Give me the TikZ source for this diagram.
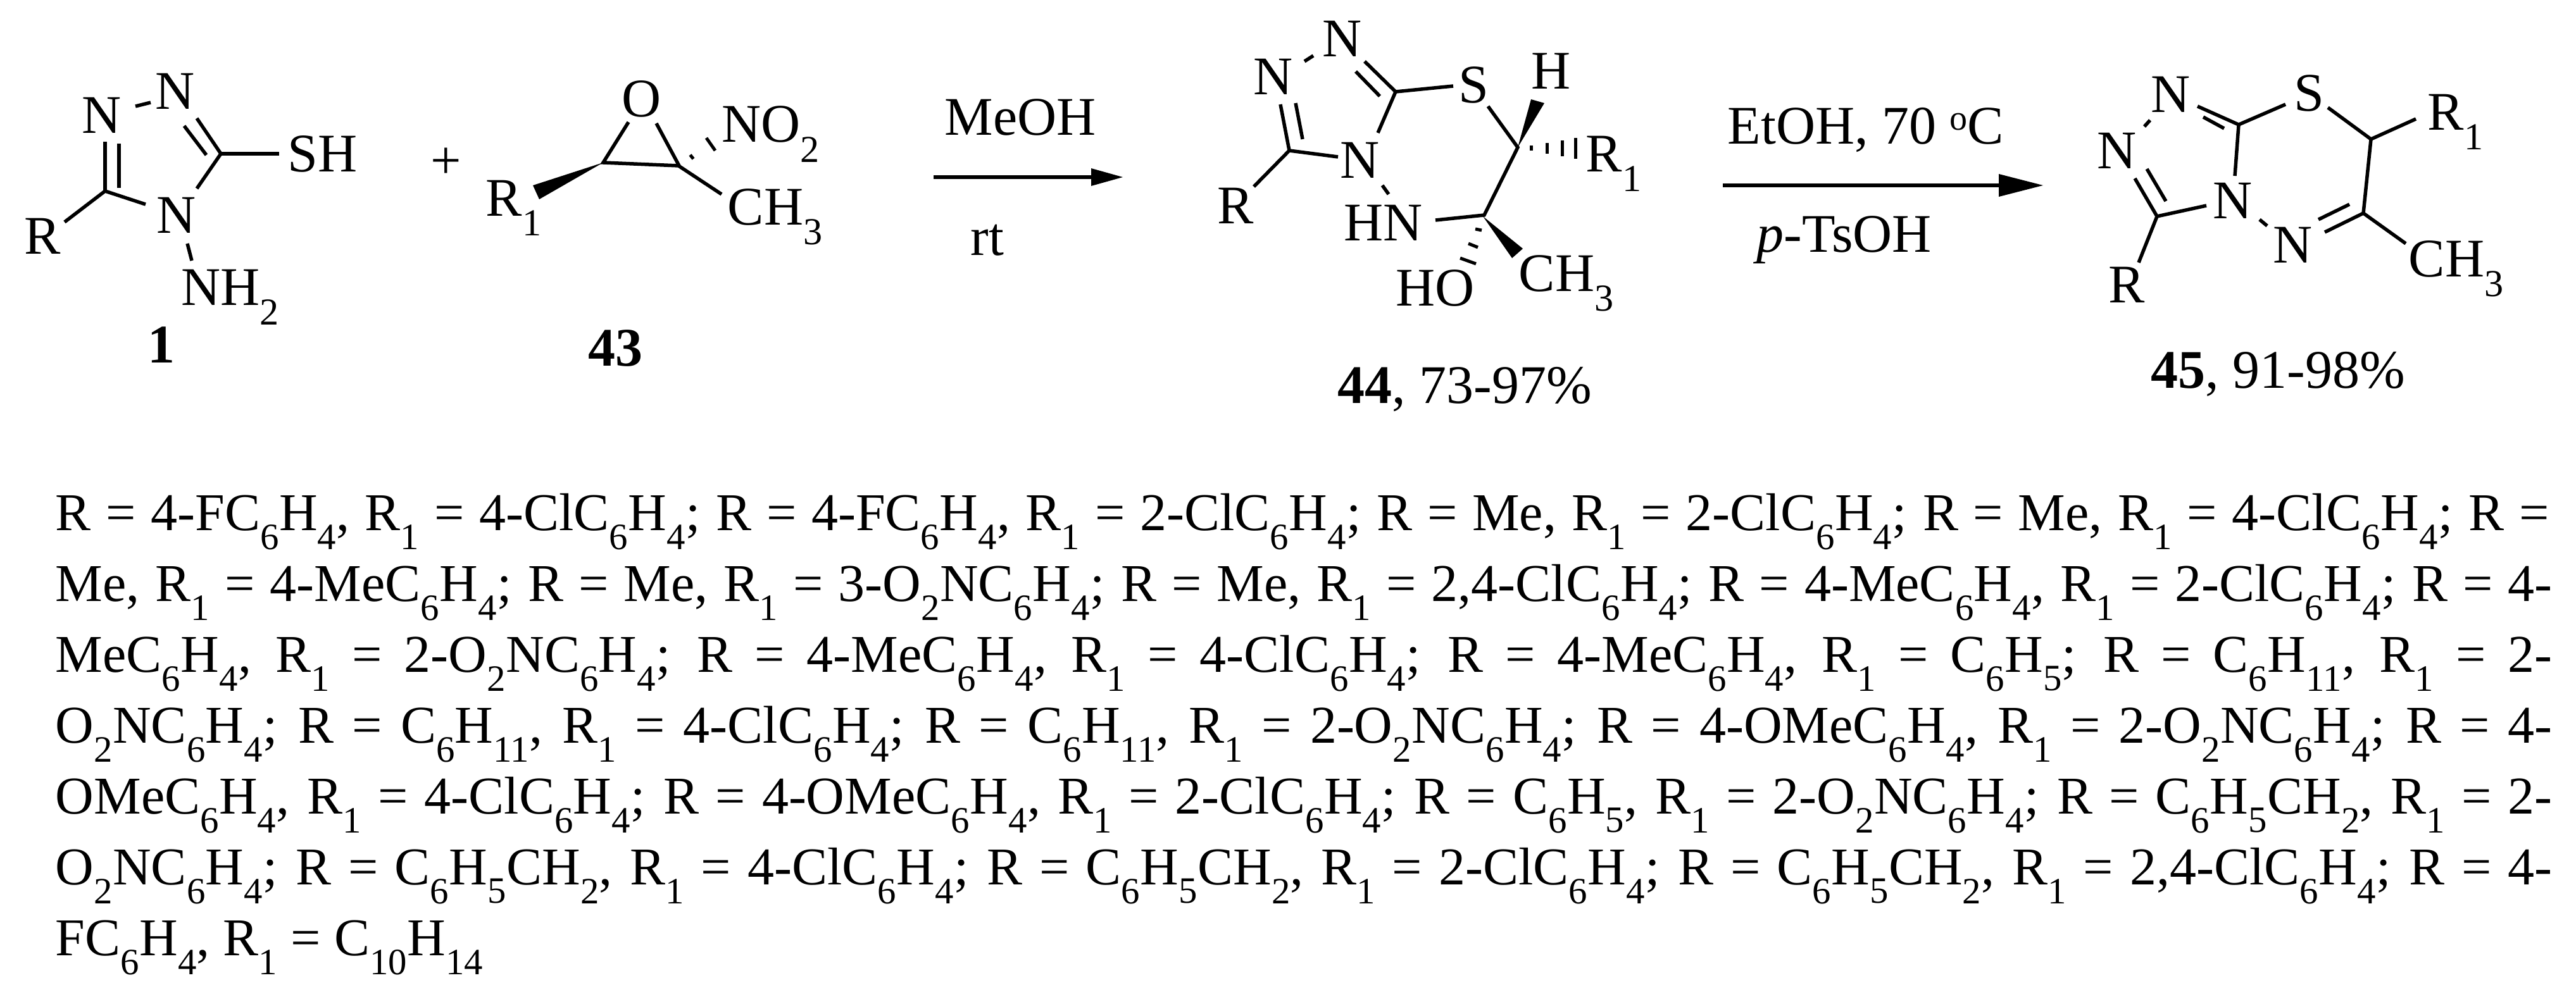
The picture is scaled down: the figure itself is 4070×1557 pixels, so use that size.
\documentclass[tikz,border=0pt]{standalone}
\usepackage{fontspec}
\setmainfont{Liberation Serif}
\newfontfamily\txt{Liberation Serif}
\newcommand{\sbx}[1]{\textsubscript{#1}}
\begin{document}
\begin{tikzpicture}[x=1pt,y=-1pt,line width=5.5pt,
  lab/.style={inner sep=0pt,anchor=base,font=\fontsize{86}{90}\selectfont},
  labw/.style={lab,anchor=base west},
  txl/.style={inner sep=0pt,anchor=base west,font=\txt\fontsize{84}{112}\selectfont}]
\useasboundingbox (0,0) rectangle (4070,1557);
% ---- compound 1
\node[lab] (n2a) at (277,173) {N};
\node[lab] (n1a) at (161,211) {N};
\node[labw] (sh) at (452,271) {SH};
\node[lab] (n4a) at (279,368) {N};
\node[lab] (ra) at (67,401) {R};
\node[labw] (nh2) at (284,482) {NH\sbx{2}};
\node[lab] (c1) at (255,573) {\textbf{1}};
\draw (214,168)--(238,162);
\draw (311,187)--(349,243) (291,199)--(326,245);
\draw (349,243)--(441,243);
\draw (349,243)--(311,298);
\draw (166,302)--(166,224) (188,227)--(188,297);
\draw (166,302)--(230,323);
\draw (166,302)--(102,351);
\draw (296,385)--(303,412);
% plus
\node[lab] (plus) at (705,282) {+};
% ---- epoxide 43
\node[lab] (oe) at (1014,185) {O};
\node[labw] (r1e) at (765,341) {R\sbx{1}};
\node[labw] (no2) at (1138,225) {NO\sbx{2}};
\node[labw] (ch3e) at (1147,355) {CH\sbx{3}};
\node[lab] (c43) at (972,578) {\textbf{43}};
\draw (993,193)--(953,257)--(1073,262)--(1037,195);
\fill (953,257)--(842,293)--(852,315)--cycle;
\draw (1072,262)--(1140,307);
\draw[line width=5pt] (1090.5,244.8)--(1095.5,251.2) (1116,218)--(1130,238);
% ---- arrow 1
\draw (1475,280)--(1730,280);
\fill (1774,280)--(1724,266)--(1724,294)--cycle;
\node[labw] (meoh) at (1490,213) {MeOH};
\node[lab] (rt) at (1560,403) {rt};
% ---- compound 44
\node[lab] (n2b) at (2121,90) {N};
\node[lab] (n1b) at (2012,150) {N};
\node[lab] (sb) at (2328,163) {S};
\node[lab] (hb) at (2451,141) {H};
\node[lab] (n4b) at (2149,281) {N};
\node[lab] (rb) at (1952,353) {R};
\node[labw] (hnb) at (2121,380) {HN};
\node[labw] (r1b) at (2503,271) {R\sbx{1}};
\node[labw] (hob) at (2203,483) {HO};
\node[labw] (ch3b) at (2397,460) {CH\sbx{3}};
\node[labw] (c44) at (2111,637) {\textbf{44}, 73-97\%};
\draw (2061,97)--(2075,88);
\draw (2156,97)--(2205,145) (2142,113)--(2180,152);
\draw (2205,145)--(2296,136);
\draw (2205,145)--(2177,210);
\draw (2023,165)--(2037,238) (2047,163)--(2058,220);
\draw (2037,238)--(2114,248);
\draw (2037,238)--(1981,295);
\draw (2184,293)--(2194,307);
\draw (2351,168)--(2398,233)--(2345,340)--(2268,348);
\fill (2398,233)--(2419,157)--(2440,163)--cycle;
\draw[line width=5pt] (2419,230)--(2419,238) (2444,226)--(2444,243) (2468,222)--(2468,247) (2489,218)--(2489,251);
\fill (2343,342)--(2389,408)--(2406,393)--cycle;
\draw[line width=5pt] (2331,362)--(2341,364) (2320,385)--(2335,391) (2307,408)--(2332,417);
% ---- arrow 2
\draw (2722,293)--(3165,293);
\fill (3228,293)--(3158,275)--(3158,311)--cycle;
\node[labw] (etoh) at (2727,227) {EtOH, 70 \raisebox{0.55ex}{\fontsize{56}{60}\selectfont o}C};
\node[labw] (tsoh) at (2773,398) {\textit{p}-TsOH};
% ---- compound 45
\node[lab] (n2c) at (3430,178) {N};
\node[lab] (n1c) at (3345,266) {N};
\node[lab] (sc) at (3648,176) {S};
\node[labw] (r1c) at (3833,205) {R\sbx{1}};
\node[lab] (n4c) at (3528,345) {N};
\node[lab] (n5c) at (3623,415) {N};
\node[lab] (rc) at (3360,478) {R};
\node[labw] (ch3c) at (3803,437) {CH\sbx{3}};
\node[labw] (c45) at (3396,613) {\textbf{45}, 91-98\%};
\draw (3397,190)--(3388,200);
\draw (3472,168)--(3537,197) (3481,185)--(3514,203);
\draw (3537,197)--(3611,165);
\draw (3537,197)--(3531,278);
\draw (3373,282)--(3408,342) (3392,267)--(3422,318);
\draw (3408,342)--(3486,325);
\draw (3408,342)--(3379,415);
\draw (3570,347)--(3582,357);
\draw (3673,367)--(3734,337) (3663,347)--(3712,323);
\draw (3734,337)--(3746,220)--(3678,170);
\draw (3746,220)--(3817,188);
\draw (3734,337)--(3801,385);
% ---- text
\node[txl] (t1) at (85,838) {\hbox to 3940pt{R = 4-FC\sbx{6}H\sbx{4}, R\sbx{1} = 4-ClC\sbx{6}H\sbx{4}; R = 4-FC\sbx{6}H\sbx{4}, R\sbx{1} = 2-ClC\sbx{6}H\sbx{4}; R = Me, R\sbx{1} = 2-ClC\sbx{6}H\sbx{4}; R = Me, R\sbx{1} = 4-ClC\sbx{6}H\sbx{4}; R =}};
\node[txl] (t2) at (85,950) {\hbox to 3945pt{Me, R\sbx{1} = 4-MeC\sbx{6}H\sbx{4}; R = Me, R\sbx{1} = 3-O\sbx{2}NC\sbx{6}H\sbx{4}; R = Me, R\sbx{1} = 2,4-ClC\sbx{6}H\sbx{4}; R = 4-MeC\sbx{6}H\sbx{4}, R\sbx{1} = 2-ClC\sbx{6}H\sbx{4}; R = 4-}};
\node[txl] (t3) at (85,1062) {\hbox to 3945pt{MeC\sbx{6}H\sbx{4}, R\sbx{1} = 2-O\sbx{2}NC\sbx{6}H\sbx{4}; R = 4-MeC\sbx{6}H\sbx{4}, R\sbx{1} = 4-ClC\sbx{6}H\sbx{4}; R = 4-MeC\sbx{6}H\sbx{4}, R\sbx{1} = C\sbx{6}H\sbx{5}; R = C\sbx{6}H\sbx{11}, R\sbx{1} = 2-}};
\node[txl] (t4) at (85,1174) {\hbox to 3945pt{O\sbx{2}NC\sbx{6}H\sbx{4}; R = C\sbx{6}H\sbx{11}, R\sbx{1} = 4-ClC\sbx{6}H\sbx{4}; R = C\sbx{6}H\sbx{11}, R\sbx{1} = 2-O\sbx{2}NC\sbx{6}H\sbx{4}; R = 4-OMeC\sbx{6}H\sbx{4}, R\sbx{1} = 2-O\sbx{2}NC\sbx{6}H\sbx{4}; R = 4-}};
\node[txl] (t5) at (85,1286) {\hbox to 3945pt{OMeC\sbx{6}H\sbx{4}, R\sbx{1} = 4-ClC\sbx{6}H\sbx{4}; R = 4-OMeC\sbx{6}H\sbx{4}, R\sbx{1} = 2-ClC\sbx{6}H\sbx{4}; R = C\sbx{6}H\sbx{5}, R\sbx{1} = 2-O\sbx{2}NC\sbx{6}H\sbx{4}; R = C\sbx{6}H\sbx{5}CH\sbx{2}, R\sbx{1} = 2-}};
\node[txl] (t6) at (85,1398) {\hbox to 3945pt{O\sbx{2}NC\sbx{6}H\sbx{4}; R = C\sbx{6}H\sbx{5}CH\sbx{2}, R\sbx{1} = 4-ClC\sbx{6}H\sbx{4}; R = C\sbx{6}H\sbx{5}CH\sbx{2}, R\sbx{1} = 2-ClC\sbx{6}H\sbx{4}; R = C\sbx{6}H\sbx{5}CH\sbx{2}, R\sbx{1} = 2,4-ClC\sbx{6}H\sbx{4}; R = 4-}};
\node[txl] (t7) at (85,1510) {FC\sbx{6}H\sbx{4}, R\sbx{1} = C\sbx{10}H\sbx{14}};
\end{tikzpicture}
\end{document}
